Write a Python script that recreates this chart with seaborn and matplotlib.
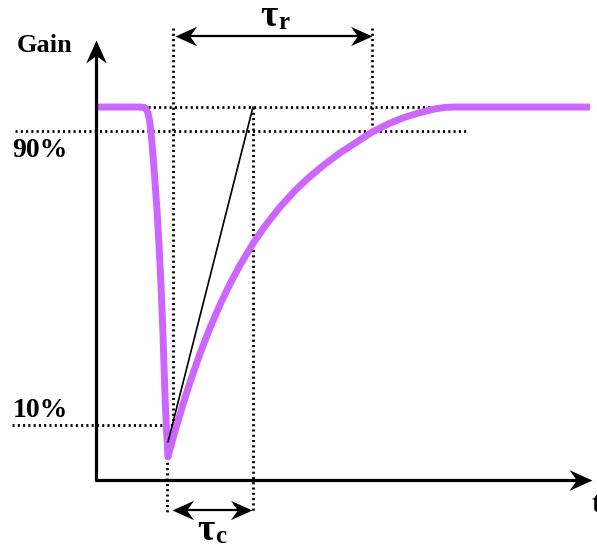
import numpy as np
import pandas as pd
import matplotlib
matplotlib.use("Agg")
import matplotlib.pyplot as plt
import seaborn as sns
from matplotlib.path import Path
from matplotlib.markers import MarkerStyle
from matplotlib.transforms import Affine2D

# Gain response: fast depletion followed by slow recovery (normalised gain vs time)
time = [0.0, 4.4, 4.8, 5.0, 5.2, 5.35, 5.5, 5.7, 5.9, 6.1, 6.3, 6.5, 6.7, 6.9, 7.05, 7.2,
        7.6, 8.0, 8.4, 8.9, 9.4, 10.4, 11.4, 12.4, 13.4, 14.4, 15.7, 16.9, 18.4,
        19.9, 21.4, 22.9, 24.4, 25.9, 27.6, 29.4, 30.9, 32.4, 33.9, 34.9, 35.9, 49.4]
gain = [1.0, 1.0, 0.999, 0.995, 0.984, 0.965, 0.933, 0.871, 0.799, 0.724, 0.630,
        0.523, 0.389, 0.228, 0.134, 0.062,
        0.102, 0.140, 0.176, 0.220, 0.262, 0.339, 0.408, 0.470, 0.526, 0.576,
        0.634, 0.681, 0.732, 0.776, 0.814, 0.847, 0.877, 0.903, 0.933, 0.957,
        0.973, 0.985, 0.995, 0.999, 1.0, 1.0]

# Reference levels and characteristic times
g_max, g_min = 1.0, 0.062
g90, g10 = 0.935, 0.147
t_min, t_10, t_c_end, t_90 = 7.1, 7.7, 15.7, 27.6
tangent_t = [7.2, 15.7]
tangent_g = [0.102, 1.0]
level_labels = ["90%", "10%"]

df = pd.DataFrame({"t": time, "gain": gain})

sns.set_style("white")
fig = plt.figure(figsize=(5.97, 5.49), dpi=100)
ax = fig.add_axes([0, 0, 1, 1])
ax.set_xlim(-9.6, 50.1)
ax.set_ylim(-0.185, 1.287)
ax.axis("off")

dot = dict(color="black", lw=2.0, linestyle=(0, (0.75, 1.15)))

# dotted guide lines
ax.plot([5.2, 49.4], [g_max, g_max], **dot)
ax.plot([-8.1, 37.1], [g90, g90], **dot)
ax.plot([-8.4, t_10], [g10, g10], **dot)
ax.plot([t_10, t_10], [1.212, g10], **dot)
ax.plot([t_min, t_min], [g_min, -0.086], **dot)
ax.plot([t_c_end, t_c_end], [g_max, -0.086], **dot)
ax.plot([t_90, t_90], [1.212, g90], **dot)

# gain curve
sns.lineplot(data=df, x="t", y="gain", ax=ax, color="#CC66FF", lw=5.0,
             sort=False, estimator=None, solid_joinstyle="round",
             solid_capstyle="butt", zorder=3)

# tangent at the start of the recovery
ax.plot(tangent_t, tangent_g, color="black", lw=1.2, zorder=4)

# concave arrow head used on the axes and the time-constant markers
stealth = Path([(0, 0), (-1, 0.45), (-0.68, 0), (-1, -0.45), (0, 0)],
               [Path.MOVETO, Path.LINETO, Path.LINETO, Path.LINETO, Path.CLOSEPOLY])


def head(x, y, angle, size):
    m = MarkerStyle(stealth, transform=Affine2D().rotate_deg(angle))
    ax.plot([x], [y], marker=m, ms=size, color="black", mew=0, zorder=6,
            linestyle="none")


# axes
ax.plot([0, 0], [-0.004, 1.15], color="black", lw=2.3, solid_capstyle="butt", zorder=5)
ax.plot([-0.1, 49.0], [0, 0], color="black", lw=2.3, solid_capstyle="butt", zorder=5)
head(0, 1.18, 90, 33)
head(49.6, 0, 0, 33)

# time-constant markers
ax.plot([8.4, 27.0], [1.190, 1.190], color="black", lw=1.6, zorder=5)
head(7.9, 1.190, 180, 31)
head(t_90, 1.190, 0, 31)
ax.plot([8.1, 15.0], [-0.080, -0.080], color="black", lw=1.6, zorder=5)
head(7.6, -0.080, 180, 31)
head(15.6, -0.080, 0, 31)

font = ["Liberation Serif", "DejaVu Serif"]
txt = dict(family=font, fontweight="bold", color="black", ha="center", va="baseline")
ax.text(-5.1, 1.147, "Gain", fontsize=19, **txt)
ax.text(-5.6, 0.866, level_labels[0], fontsize=20, **txt)
ax.text(-5.6, 0.169, level_labels[1], fontsize=20, **txt)
ax.text(17.3, 1.217, "τ", fontsize=27, **txt)
ax.text(18.8, 1.209, "r", fontsize=18, **txt)
ax.text(11.0, -0.161, "τ", fontsize=27, **txt)
ax.text(12.5, -0.168, "c", fontsize=18, **txt)
ax.text(49.5, -0.086, "t", fontsize=21, family=font, fontweight="bold",
        color="black", ha="left", va="baseline")

fig.savefig("out.png", dpi=100)
